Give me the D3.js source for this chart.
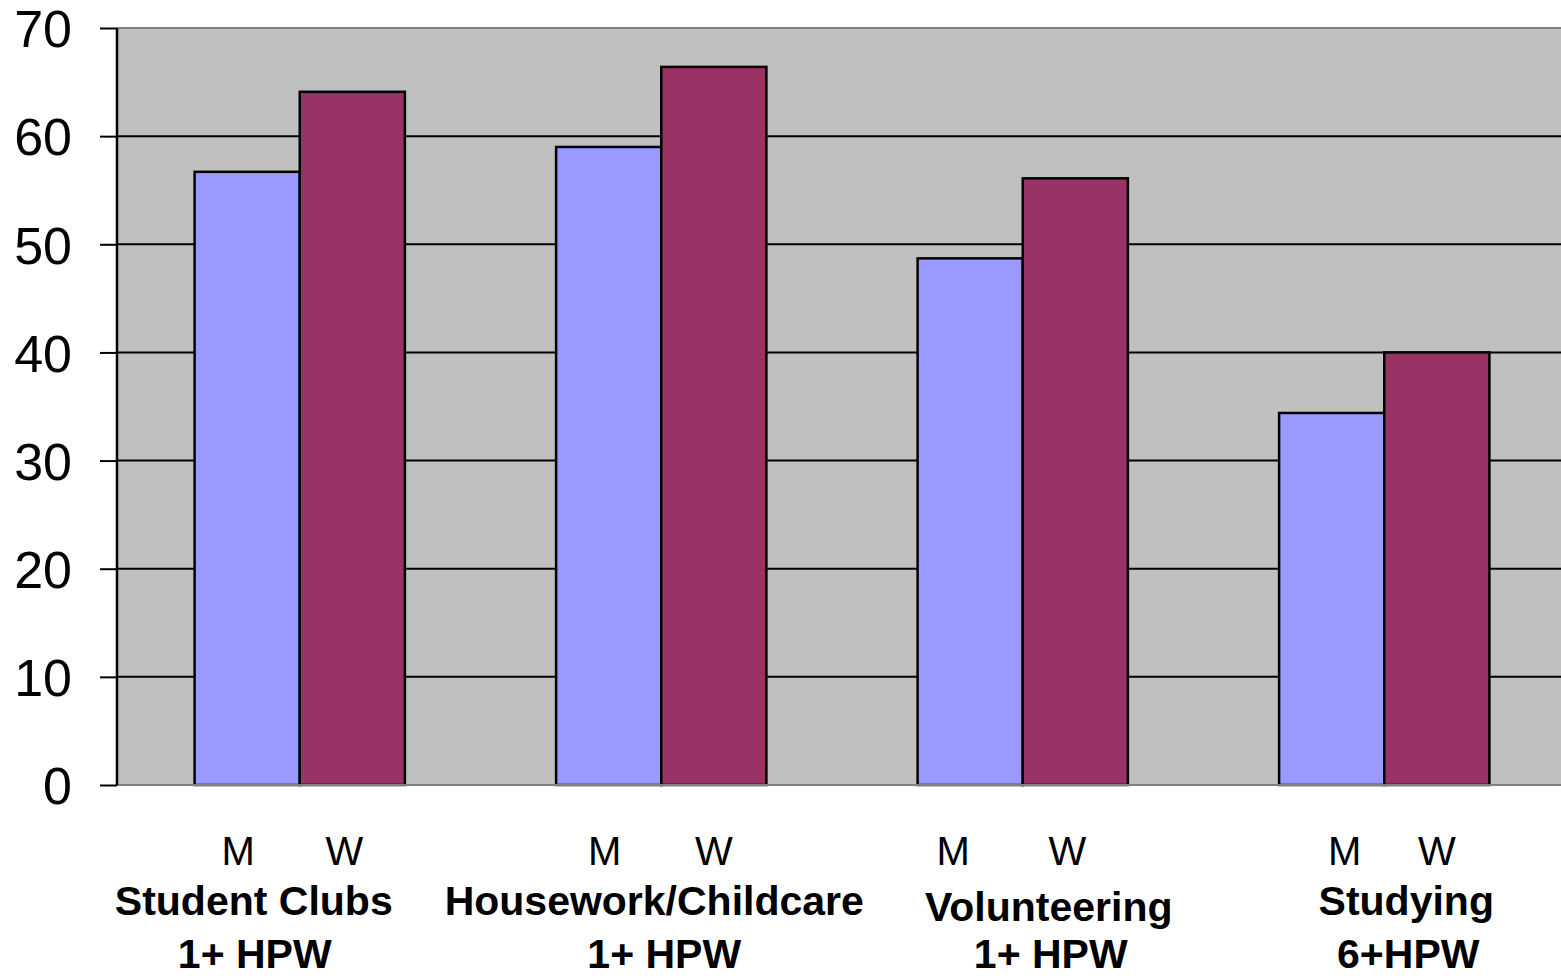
<!DOCTYPE html>
<html>
<head>
<meta charset="utf-8">
<script src="https://cdn.jsdelivr.net/npm/d3@7"></script>
<style>
  html, body { margin: 0; padding: 0; background: #ffffff; }
  svg { display: block; }
</style>
</head>
<body>
<svg id="chart" width="1561" height="979"></svg>
<script>
// ---- data ----
const categories = ["Student Clubs", "Housework/Childcare", "Volunteering", "Studying"];
const categorySub = ["1+ HPW", "1+ HPW", "1+ HPW", "6+HPW"];
const seriesKeys = ["M", "W"];
const menValues = [56.7, 59.0, 48.7, 34.4];
const womenValues = [64.1, 66.4, 56.1, 40.0];
const yTicks = [0, 10, 20, 30, 40, 50, 60, 70];
const seriesColors = ["#9999FF", "#993366"];

// ---- layout ----
const W = 1561, H = 979;
const plotLeft = 117, plotTop = 28, plotBottom = 785;
const svg = d3.select("#chart");

const x0 = d3.scaleBand().domain(categories).range([119, 1565]).padding(0);
const x1 = d3.scaleBand().domain(seriesKeys).range([0, x0.bandwidth()]).paddingInner(0).paddingOuter(0.719);
const y = d3.scaleLinear().domain([0, 70]).range([plotBottom, plotTop]);
const color = d3.scaleOrdinal().domain(seriesKeys).range(seriesColors);

const rows = categories.map((c, i) => ({ cat: c, values: [
  { key: "M", value: menValues[i] },
  { key: "W", value: womenValues[i] }
]}));

// plot background
svg.append("rect")
  .attr("x", plotLeft).attr("y", plotTop)
  .attr("width", W - plotLeft + 5).attr("height", plotBottom - plotTop)
  .attr("fill", "#C0C0C0");

// gridlines (black) for interior ticks
svg.append("g").selectAll("line")
  .data(yTicks.filter(t => t > 0 && t < 70))
  .join("line")
  .attr("x1", plotLeft).attr("x2", W + 5)
  .attr("y1", d => y(d)).attr("y2", d => y(d))
  .attr("stroke", "#000").attr("stroke-width", 2);

// top border gray
svg.append("line").attr("x1", plotLeft).attr("x2", W + 5).attr("y1", y(70)).attr("y2", y(70))
  .attr("stroke", "#808080").attr("stroke-width", 2);

// bars
const groups = svg.append("g").selectAll("g")
  .data(rows).join("g")
  .attr("transform", d => `translate(${x0(d.cat)},0)`);

groups.selectAll("rect")
  .data(d => d.values).join("rect")
  .attr("x", d => x1(d.key))
  .attr("y", d => y(d.value))
  .attr("width", x1.bandwidth())
  .attr("height", d => y(0) - y(d.value))
  .attr("fill", d => color(d.key))
  .attr("stroke", "#000").attr("stroke-width", 2.5);

svg.append("line").attr("x1", plotLeft).attr("x2", W + 5).attr("y1", y(0)).attr("y2", y(0))
  .attr("stroke", "#808080").attr("stroke-width", 2);

// y axis
const yAxis = d3.axisLeft(y).tickValues(yTicks).tickSize(17).tickPadding(28).tickFormat(d3.format("d"));
const yg = svg.append("g").attr("transform", `translate(${plotLeft},0)`).call(yAxis);
yg.select(".domain").attr("stroke", "#000").attr("stroke-width", 2.5).attr("d", `M0,${plotTop}V${plotBottom}`);
yg.selectAll(".tick line").attr("stroke", "#000").attr("stroke-width", 2);
yg.selectAll(".tick text")
  .attr("font-family", "Arial, 'Liberation Sans', sans-serif")
  .attr("font-size", 52)
  .attr("fill", "#000")
  .attr("dy", "0.36em");

// series labels under each bar
const mwOffsets = [[-9, -8], [-4, 0], [-17, -8], [13, 0]];
groups.each(function(d, gi) {
  d3.select(this).selectAll("text.mw")
    .data(seriesKeys).join("text")
    .attr("class", "mw")
    .attr("x", (k, j) => x1(k) + x1.bandwidth() / 2 + mwOffsets[gi][j])
    .attr("y", 865)
    .attr("text-anchor", "middle")
    .attr("font-family", "Arial, 'Liberation Sans', sans-serif")
    .attr("font-size", 40)
    .attr("fill", "#000")
    .text(k => k);
});

// category labels
const catOffsets = [[-46, 0], [-7, 0], [26, 6], [22, 0]];
const subOffsets = [[-45, 0], [3, 0], [28, 0], [24, 0]];
const catG = svg.append("g");
catG.selectAll("text.cat")
  .data(categories).join("text")
  .attr("class", "cat")
  .attr("x", (c, i) => x0(c) + x0.bandwidth() / 2 + catOffsets[i][0])
  .attr("y", (c, i) => 915 + catOffsets[i][1])
  .attr("text-anchor", "middle")
  .attr("font-family", "Arial, 'Liberation Sans', sans-serif")
  .attr("font-weight", "bold")
  .attr("font-size", 41)
  .attr("fill", "#000")
  .text(c => c);
catG.selectAll("text.sub")
  .data(categories).join("text")
  .attr("class", "sub")
  .attr("x", (c, i) => x0(c) + x0.bandwidth() / 2 + subOffsets[i][0])
  .attr("y", (c, i) => 968 + subOffsets[i][1])
  .attr("text-anchor", "middle")
  .attr("font-family", "Arial, 'Liberation Sans', sans-serif")
  .attr("font-weight", "bold")
  .attr("font-size", 41)
  .attr("fill", "#000")
  .text((c, i) => categorySub[i]);
</script>
</body>
</html>
